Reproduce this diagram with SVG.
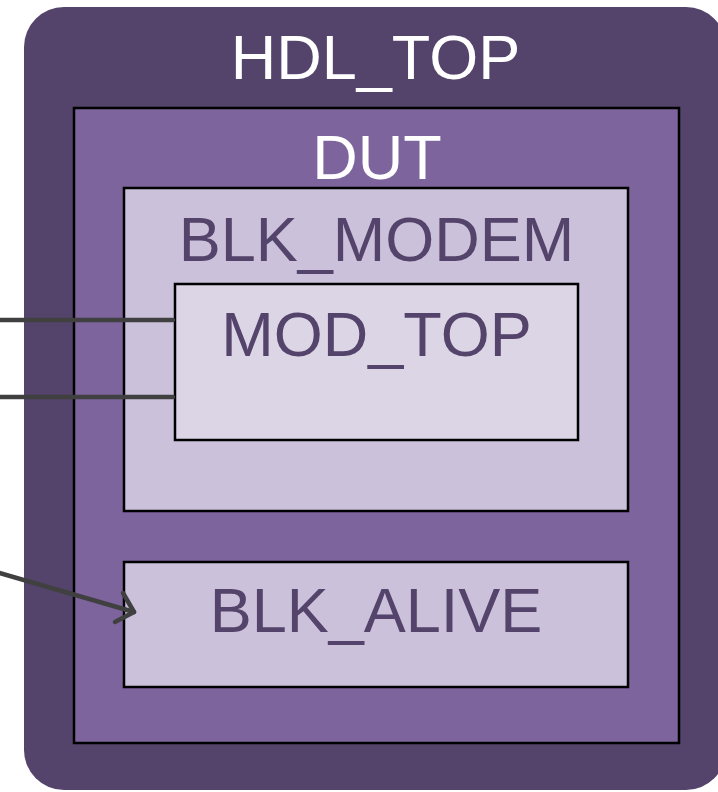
<svg xmlns="http://www.w3.org/2000/svg" width="718" height="792" viewBox="0 0 718 792">
  <defs>
    <style>
      .box { stroke: #000; stroke-width: 2.5; }
      .lbl { font-family: "Liberation Sans", Arial, sans-serif; font-size: 63px; text-anchor: middle; }
      .light { fill: #ffffff; }
      .dark { fill: #54436a; }
      .wire { fill: none; stroke: #404040; stroke-width: 4.5; stroke-linecap: round; stroke-linejoin: round; }
    </style>
  </defs>

  <g id="hdl_top">
    <rect x="24" y="7" width="702" height="783" rx="40" ry="40" fill="#54436a"/>
    <text class="lbl light" x="375.5" y="79">HDL_TOP</text>
  </g>

  <g id="dut">
    <rect class="box" x="74" y="108" width="605" height="635" fill="#7d649c"/>
    <text class="lbl light" x="377" y="179">DUT</text>
  </g>

  <g id="blk_modem">
    <rect class="box" x="124" y="188" width="504" height="323" fill="#cbc1da"/>
    <text class="lbl dark" x="376.5" y="261">BLK_MODEM</text>
  </g>

  <g id="mod_top">
    <rect class="box" x="175" y="284" width="403" height="156" fill="#dcd5e6"/>
    <text class="lbl dark" x="376.5" y="356">MOD_TOP</text>
  </g>

  <g id="blk_alive">
    <rect class="box" x="124" y="562" width="504" height="125" fill="#cbc1da"/>
    <text class="lbl dark" x="376" y="632">BLK_ALIVE</text>
  </g>

  <g id="connectors">
    <line class="wire" x1="-4" y1="320" x2="173" y2="320"/>
    <line class="wire" x1="-4" y1="397" x2="173" y2="397"/>
    <line class="wire" x1="-4" y1="572" x2="134" y2="612"/>
    <!-- open arrowhead at the BLK_ALIVE end -->
    <path class="wire" d="M123,593 L134,612 L115,622"/>
  </g>
</svg>
